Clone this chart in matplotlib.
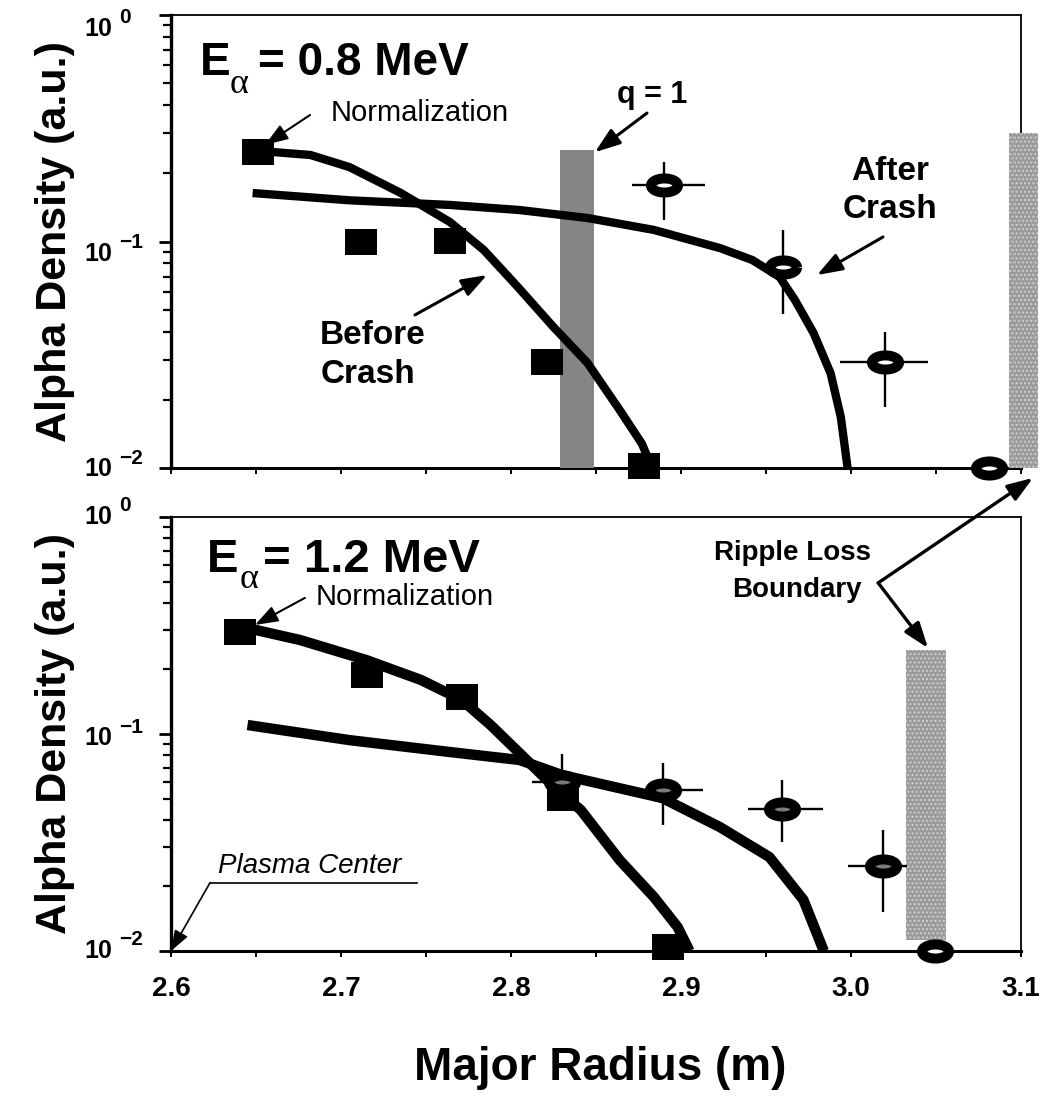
import numpy as np
import matplotlib
matplotlib.use('Agg')
import matplotlib.pyplot as plt
from matplotlib.ticker import (FixedLocator, MultipleLocator, LogLocator,
                               NullFormatter, FormatStrFormatter)

plt.rcParams['font.family'] = ['Liberation Sans', 'DejaVu Sans']
plt.rcParams['font.weight'] = 'bold'
plt.rcParams['axes.labelweight'] = 'bold'

# ---- values ----
# upper panel, E_alpha = 0.8 MeV
top_sq_r = [2.651, 2.712, 2.764, 2.821, 2.878]
top_sq_n = [0.248, 0.100, 0.101, 0.0294, 0.0102]

top_ring_r = [2.890, 2.960, 3.020, 3.081]
top_ring_n = [0.177, 0.077, 0.0294, 0.0100]
top_ring_n_lo = [0.1245, 0.048, 0.0186, 0.0100]
top_ring_n_hi = [0.2244, 0.112, 0.0398, 0.0100]
top_ring_r_lo = [2.871, 2.960, 2.9935, 3.081]
top_ring_r_hi = [2.914, 2.960, 3.0453, 3.081]

top_before_r = [2.655, 2.682, 2.705, 2.735, 2.764, 2.784, 2.804, 2.825, 2.845,
                2.864, 2.877, 2.883]
top_before_n = [0.250, 0.241, 0.213, 0.164, 0.122, 0.0917, 0.063, 0.0419, 0.0291,
                0.018, 0.0128, 0.0100]

top_after_r = [2.648, 2.705, 2.764, 2.805, 2.845, 2.884, 2.923, 2.942, 2.958,
               2.967, 2.978, 2.988, 2.994, 2.998]
top_after_n = [0.1637, 0.152, 0.145, 0.1377, 0.127, 0.1125, 0.0935, 0.0828, 0.0697,
               0.0552, 0.0394, 0.0262, 0.0168, 0.0100]

# lower panel, E_alpha = 1.2 MeV
bot_sq_r = [2.6406, 2.7153, 2.7712, 2.8306, 2.8924]
bot_sq_n = [0.295, 0.187, 0.148, 0.0507, 0.0104]

bot_ring_r = [2.830, 2.8894, 2.9594, 3.0188, 3.0494]
bot_ring_n = [0.0601, 0.0552, 0.0451, 0.0247, 0.0100]
bot_ring_n_lo = [0.044, 0.0381, 0.0318, 0.0151, 0.0100]
bot_ring_n_hi = [0.0812, 0.0735, 0.0614, 0.0361, 0.0100]
bot_ring_r_lo = [2.8124, 2.8776, 2.9394, 2.9982, 3.0494]
bot_ring_r_hi = [2.8476, 2.9129, 2.9835, 3.0329, 3.0494]

bot_before_r = [2.645, 2.676, 2.715, 2.747, 2.771, 2.788, 2.805, 2.829, 2.841,
                2.864, 2.884, 2.898, 2.905]
bot_before_n = [0.3076, 0.271, 0.219, 0.1775, 0.1436, 0.110, 0.0817, 0.0535, 0.0447,
                0.0262, 0.01775, 0.0129, 0.0100]

bot_after_r = [2.645, 2.705, 2.764, 2.805, 2.830, 2.889, 2.923, 2.952, 2.972, 2.984]
bot_after_n = [0.110, 0.0937, 0.0826, 0.0759, 0.0647, 0.0507, 0.0372, 0.0271, 0.0172, 0.0100]

# shaded boundaries: (left, right, bottom, top)
q1_band = (2.829, 2.849, 0.01, 0.254)
ripple_top_band = (3.093, 3.110, 0.01, 0.30)
ripple_bot_band = (3.0324, 3.0559, 0.0112, 0.244)

decades = [-2, -1, 0]

# ---- figure ----
W, H = 1040, 1098
fig = plt.figure(figsize=(W / 100, H / 100), dpi=100)
ax1 = fig.add_axes([171 / W, 1 - 468 / H, 850 / W, 453 / H])
ax2 = fig.add_axes([171 / W, 1 - 951 / H, 850 / W, 434 / H])

t = np.linspace(0, 2 * np.pi, 64)
ring_marker = np.column_stack([np.cos(t), 0.52 * np.sin(t)])
box_marker = np.array([(-1, -0.84), (1, -0.84), (1, 0.84), (-1, 0.84), (-1, -0.84)])


def band(ax, b, color, hatch=None, clip=True):
    l, r, lo, hi = b
    ax.bar(l, hi - lo, bottom=lo, width=r - l, align='edge', color=color,
           hatch=hatch, edgecolor='#cfcfcf' if hatch else color, linewidth=0,
           zorder=2.6, clip_on=clip)


def arrow(ax, tail, head, lw=1.8, ms=22, **kw):
    ax.annotate('', xy=head, xytext=tail,
                arrowprops=dict(arrowstyle='-|>,head_length=0.7,head_width=0.25',
                                color='k', lw=lw, mutation_scale=ms,
                                shrinkA=0, shrinkB=0),
                annotation_clip=False, **kw)


def rings(ax, r, n, rlo, rhi, nlo, nhi, face):
    r = np.array(r); n = np.array(n)
    ax.errorbar(r, n, xerr=[r - np.array(rlo), np.array(rhi) - r],
                yerr=[n - np.array(nlo), np.array(nhi) - n], fmt='none',
                ecolor='k', elinewidth=1.7, capsize=0, zorder=4, clip_on=False)
    for i in range(len(r)):
        ax.plot(r[i], n[i], linestyle='none', marker=ring_marker, ms=19.5,
                mfc=face[i], mec='k', mew=7.2, zorder=6, clip_on=False)


# upper panel
band(ax1, q1_band, '#858585')
band(ax1, ripple_top_band, '#9a9a9a', hatch='....', clip=False)
ax1.plot(top_before_r, top_before_n, color='k', lw=6, solid_capstyle='butt',
         solid_joinstyle='round', zorder=5)
ax1.plot(top_after_r, top_after_n, color='k', lw=6, solid_capstyle='butt',
         solid_joinstyle='round', zorder=5)
ax1.plot(top_sq_r, top_sq_n, linestyle='none', marker=box_marker, ms=23, mew=0,
         color='k', zorder=6, clip_on=False)
rings(ax1, top_ring_r, top_ring_n, top_ring_r_lo, top_ring_r_hi,
      top_ring_n_lo, top_ring_n_hi, ['white'] * 4)

# lower panel
band(ax2, ripple_bot_band, '#9a9a9a', hatch='....')
ax2.plot(bot_before_r, bot_before_n, color='k', lw=7.5, solid_capstyle='butt',
         solid_joinstyle='round', zorder=5)
ax2.plot(bot_after_r, bot_after_n, color='k', lw=7.5, solid_capstyle='butt',
         solid_joinstyle='round', zorder=5)
rings(ax2, bot_ring_r, bot_ring_n, bot_ring_r_lo, bot_ring_r_hi,
      bot_ring_n_lo, bot_ring_n_hi, ['#7a7a7a'] * 4 + ['white'])
ax2.plot(bot_sq_r, bot_sq_n, linestyle='none', marker=box_marker, ms=23, mew=0,
         color='k', zorder=6, clip_on=False)

# vertical nudges (points) of the "10^n" labels, per panel, as in the scan
label_dy = {ax1: {-2: -1, -1: -9, 0: -10}, ax2: {-2: 0, -1: -3, 0: 0}}

for ax in (ax1, ax2):
    ax.set_yscale('log')
    ax.set_xlim(2.6, 3.1)
    ax.set_ylim(0.01, 1)
    ax.yaxis.set_major_locator(FixedLocator([10.0 ** d for d in decades]))
    ax.yaxis.set_major_formatter(NullFormatter())
    ax.yaxis.set_minor_locator(LogLocator(base=10, subs=np.arange(2, 10)))
    ax.yaxis.set_minor_formatter(NullFormatter())
    ax.xaxis.set_major_locator(MultipleLocator(0.1))
    ax.xaxis.set_minor_locator(MultipleLocator(0.05))
    ax.tick_params(axis='y', which='major', direction='out', length=9, width=2)
    ax.tick_params(axis='y', which='minor', direction='out', length=6, width=1.6)
    ax.tick_params(axis='x', which='both', direction='out', length=4, width=1.4)
    ax.spines['left'].set_linewidth(2.4)
    ax.spines['bottom'].set_linewidth(2.2)
    ax.spines['top'].set_linewidth(1.3)
    ax.spines['right'].set_linewidth(1.3)
    ax.set_ylabel('Alpha Density (a.u.)', fontsize=31, fontweight='bold')
    ax.yaxis.set_label_coords(-0.113, 0.5)
    # "10" with a large raised exponent, as in the original tick labels
    for d in decades:
        dy = label_dy[ax][d]
        ax.annotate('10', xy=(0, 10.0 ** d), xycoords=('axes fraction', 'data'),
                    xytext=(-42, dy), textcoords='offset points',
                    ha='right', va='center', fontsize=18, annotation_clip=False)
        ax.annotate(str(d).replace('-', '\u2212'), xy=(0, 10.0 ** d),
                    xycoords=('axes fraction', 'data'),
                    xytext=(-37, dy + 8), textcoords='offset points',
                    ha='left', va='center', fontsize=15, annotation_clip=False)

ax1.tick_params(axis='x', labelbottom=False)
ax2.xaxis.set_major_formatter(FormatStrFormatter('%.1f'))
ax2.tick_params(axis='x', which='major', labelsize=20, pad=14)

fig.text(600 / W, 1 - 1080 / H, 'Major Radius (m)', ha='center', va='baseline',
         fontsize=33)

# upper panel annotations
ax1.text(2.6171, 0.543, 'E', fontsize=33, va='baseline')
ax1.text(2.6347, 0.453, 'α', fontsize=26, va='baseline', family='Liberation Serif',
         fontweight='normal')
ax1.text(2.6512, 0.543, '= 0.8 MeV', fontsize=33, va='baseline')
ax1.text(2.7465, 0.369, 'Normalization', fontsize=21, fontweight='normal',
         ha='center', va='center')
arrow(ax1, (2.6818, 0.362), (2.6553, 0.267), lw=1.5, ms=20)
ax1.text(2.883, 0.443, 'q = 1', fontsize=22, ha='center', va='center')
arrow(ax1, (2.880, 0.369), (2.8494, 0.248), lw=2.2)
ax1.text(3.023, 0.203, 'After', fontsize=24, ha='center', va='center')
ax1.text(3.023, 0.138, 'Crash', fontsize=24, ha='center', va='center')
arrow(ax1, (3.0188, 0.1047), (2.980, 0.0711), lw=2.2)
ax1.text(2.7188, 0.0383, 'Before', fontsize=24, ha='center', va='center')
ax1.text(2.716, 0.026, 'Crash', fontsize=24, ha='center', va='center')
arrow(ax1, (2.7435, 0.0474), (2.7859, 0.0711), lw=2.2)

# lower panel annotations
ax2.text(2.6212, 0.558, 'E', fontsize=34, va='baseline')
ax2.text(2.6406, 0.471, 'α', fontsize=26, va='baseline', family='Liberation Serif',
         fontweight='normal')
ax2.text(2.6541, 0.558, '= 1.2 MeV', fontsize=34, va='baseline')
ax2.text(2.7376, 0.428, 'Normalization', fontsize=21, fontweight='normal',
         ha='center', va='center')
arrow(ax2, (2.6788, 0.424), (2.6494, 0.318), lw=1.5, ms=20)
ax2.text(2.9653, 0.682, 'Ripple Loss', fontsize=20, ha='center', va='center')
ax2.text(2.9682, 0.461, 'Boundary', fontsize=20, ha='center', va='center')
arrow(ax2, (3.016, 0.497), (3.107, 0.00904), lw=2.4, xycoords=ax1.transData,
      textcoords=ax2.transData)
arrow(ax2, (3.016, 0.497), (3.0453, 0.249), lw=2.4)
ax2.text(2.6276, 0.0247, 'Plasma Center', fontsize=20, fontweight='normal',
         style='italic', va='center')
ax2.plot([2.6229, 2.7447], [0.0206, 0.0206], color='k', lw=1.2, zorder=5)
arrow(ax2, (2.6229, 0.0206), (2.6, 0.01), lw=1.2, ms=18)

fig.savefig('out.png', dpi=100)
